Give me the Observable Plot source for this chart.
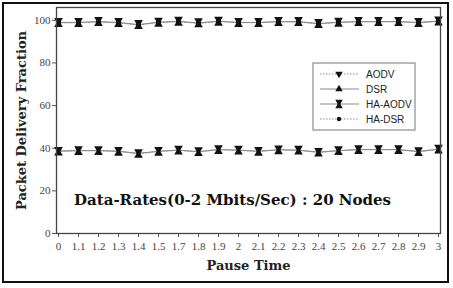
<!DOCTYPE html>
<html>
<head>
<meta charset="utf-8">
<script src="https://cdn.jsdelivr.net/npm/d3@7"></script>
<script src="https://cdn.jsdelivr.net/npm/@observablehq/plot@0.6"></script>
<style>
  html, body { margin: 0; padding: 0; background: #fff; }
  #wrap { position: relative; width: 453px; height: 288px; overflow: hidden; }
  #wrap svg { position: absolute; left: 0; top: 0; }
  #border { position: absolute; left: 2px; top: 2px; width: 443px; height: 277px; border: 2px solid #111; pointer-events: none; }
</style>
</head>
<body>
<div id="wrap"><div id="border"></div></div>
<script>
const pauseTimes = ["0","1.1","1.2","1.3","1.4","1.5","1.7","1.8","1.9","2","2.1","2.2","2.3","2.4","2.5","2.6","2.7","2.8","2.9","3"];
const aodv   = [38.5,38.8,38.8,38.5,37.4,38.5,39.0,38.3,39.3,39.0,38.5,39.2,39.0,38.0,38.8,39.3,39.3,39.3,38.3,39.5];
const dsr    = [38.7,38.9,38.9,38.6,37.6,38.6,39.1,38.4,39.4,39.1,38.6,39.3,39.1,38.2,38.9,39.4,39.4,39.4,38.5,39.6];
const haAodv = [99.0,99.0,99.4,99.0,98.0,99.1,99.5,98.8,99.6,99.0,99.0,99.4,99.4,98.5,99.1,99.4,99.4,99.4,99.0,99.7];
const haDsr  = [98.8,98.9,99.2,98.8,97.8,99.0,99.3,98.6,99.4,98.9,98.9,99.3,99.2,98.3,99.0,99.3,99.3,99.3,98.8,99.5];
const seriesNames = ["AODV","DSR","HA-AODV","HA-DSR"];
const yTicks = [0,20,40,60,80,100];

const toRows = (vals, name) => vals.map((v, i) => ({x: pauseTimes[i], y: v, series: name}));
const rows = {
  "AODV": toRows(aodv, "AODV"),
  "DSR": toRows(dsr, "DSR"),
  "HA-AODV": toRows(haAodv, "HA-AODV"),
  "HA-DSR": toRows(haDsr, "HA-DSR")
};
const dashed = {"AODV": "1.5,1.5", "DSR": null, "HA-AODV": null, "HA-DSR": "1.5,1.5"};

const lineMarks = seriesNames.map(n => Plot.line(rows[n], {x: "x", y: "y", stroke: "#8a8a8a", strokeWidth: 1, strokeDasharray: dashed[n]}));

const markerMarks = [
  Plot.dot(rows["AODV"], {x: "x", y: "y", symbol: "triangle", rotate: 180, r: 3.2, fill: "#111", stroke: "none", dy: -2}),
  Plot.dot(rows["DSR"], {x: "x", y: "y", symbol: "triangle", r: 3.2, fill: "#111", stroke: "none", dy: 2}),
  Plot.dot(rows["HA-AODV"], {x: "x", y: "y", symbol: "triangle", rotate: 180, r: 3.2, fill: "#111", stroke: "none", dy: -2}),
  Plot.dot(rows["HA-AODV"], {x: "x", y: "y", symbol: "triangle", r: 3.2, fill: "#111", stroke: "none", dy: 2}),
  Plot.dot(rows["HA-DSR"], {x: "x", y: "y", r: 2.6, fill: "#111", stroke: "none"})
];

const chart = Plot.plot({
  width: 453,
  height: 288,
  marginLeft: 56,
  marginRight: 13,
  marginTop: 7,
  marginBottom: 55,
  style: {background: "transparent"},
  x: {type: "point", domain: pauseTimes, padding: 0, label: null},
  y: {domain: [0, 106], label: null},
  marks: [
    Plot.axisY({ticks: yTicks, tickSize: 4, tickPadding: 2, fontSize: 11, fontFamily: "Liberation Serif", fill: "#444", stroke: "#555"}),
    Plot.axisX({tickSize: 4, tickPadding: 5, fontSize: 11, fontFamily: "Liberation Serif", fill: "#444", stroke: "#555"}),
    ...lineMarks,
    ...markerMarks,
    Plot.frame({stroke: "#444", strokeWidth: 1.3}),
    Plot.text(["Packet Delivery Fraction"], {frameAnchor: "left", dx: -35, rotate: -90, textAnchor: "middle", fontSize: 13, fontWeight: "bold", fontFamily: "DejaVu Serif", fill: "#222"}),
    Plot.text(["Pause Time"], {frameAnchor: "bottom", dy: 36, textAnchor: "middle", fontSize: 13, fontWeight: "bold", fontFamily: "DejaVu Serif", fill: "#222"}),
    Plot.text(["Data-Rates(0-2 Mbits/Sec) : 20 Nodes"], {frameAnchor: "middle", dx: -16, dy: 80, textAnchor: "middle", fontSize: 15, fontWeight: "bold", fontFamily: "DejaVu Serif", fill: "#111"})
  ]
});

document.getElementById("wrap").insertBefore(chart, document.getElementById("border"));

// Legend
const svg = d3.select(chart);
const lg = svg.append("g").attr("transform", "translate(313,63)");
lg.append("rect").attr("width", 102).attr("height", 67).attr("fill", "#fff").attr("stroke", "#777").attr("stroke-width", 1);
seriesNames.forEach((n, i) => {
  const yy = 11 + i * 15;
  const g = lg.append("g").attr("transform", `translate(0,${yy})`);
  g.append("line").attr("x1", 7).attr("x2", 46).attr("y1", 0).attr("y2", 0)
    .attr("stroke", "#8a8a8a").attr("stroke-width", 1).attr("stroke-dasharray", dashed[n]);
  const tri = d3.symbol(d3.symbolTriangle, 24);
  if (n === "AODV") g.append("path").attr("d", tri()).attr("transform", "translate(26,0) rotate(180)").attr("fill", "#111");
  if (n === "DSR") g.append("path").attr("d", tri()).attr("transform", "translate(26,0)").attr("fill", "#111");
  if (n === "HA-AODV") {
    g.append("path").attr("d", tri()).attr("transform", "translate(26,-2) rotate(180)").attr("fill", "#111");
    g.append("path").attr("d", tri()).attr("transform", "translate(26,2)").attr("fill", "#111");
  }
  if (n === "HA-DSR") g.append("circle").attr("cx", 26).attr("cy", 0).attr("r", 2.2).attr("fill", "#111");
  g.append("text").attr("x", 53).attr("y", 0).attr("dy", "0.35em").attr("font-size", 10)
    .attr("text-anchor", "start")
    .attr("font-family", "Liberation Sans, Arial, sans-serif").attr("fill", "#222").text(n);
});
</script>
</body>
</html>
